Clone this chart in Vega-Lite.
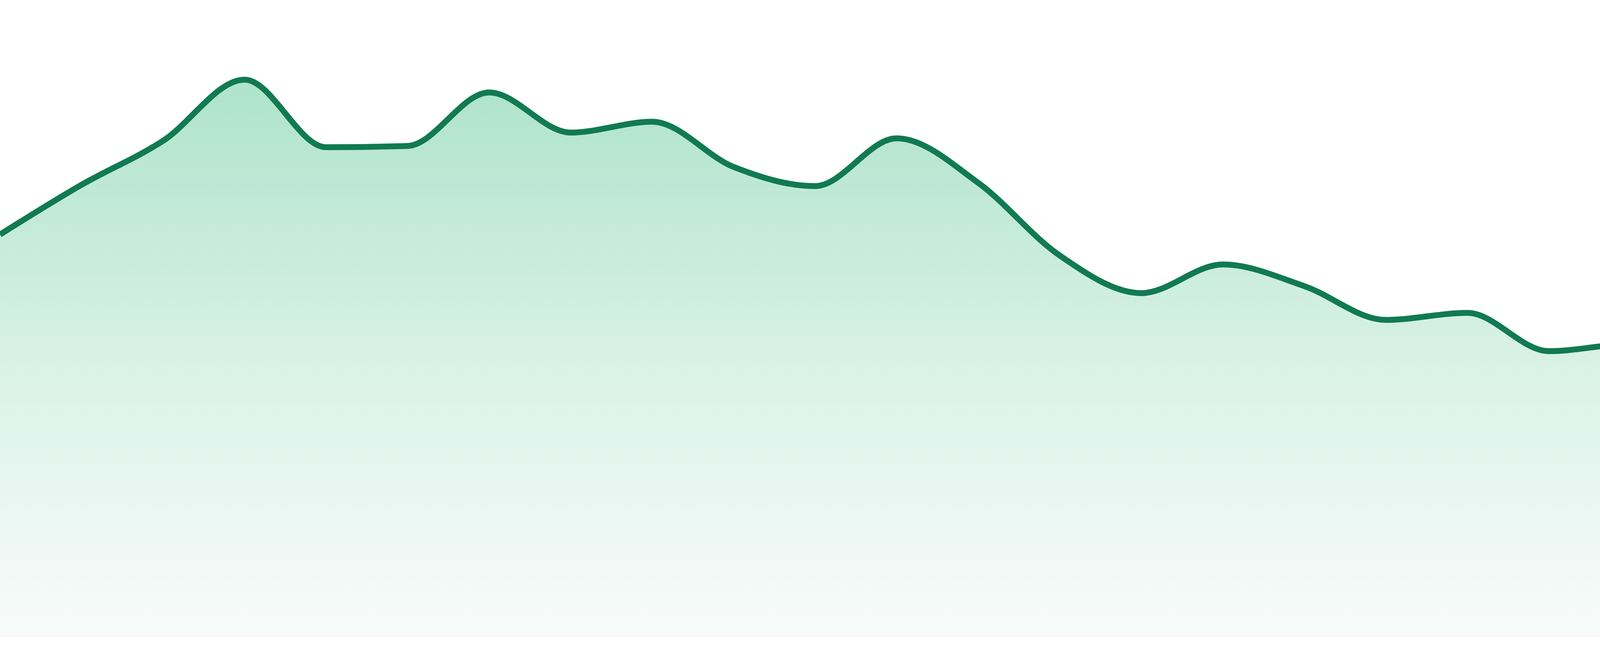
{
  "$schema": "https://vega.github.io/schema/vega-lite/v6.json",
  "description": "Smooth green area trend with gradient fill",
  "width": 4800,
  "height": 1680,
  "autosize": {"type": "fit", "contains": "padding"},
  "padding": 0,
  "background": "white",
  "config": {"view": {"stroke": null}},
  "data": {
    "values": [
      {"step": 0, "value": 63.2},
      {"step": 1, "value": 71.0},
      {"step": 2, "value": 77.9},
      {"step": 3, "value": 87.5},
      {"step": 4, "value": 76.9},
      {"step": 5, "value": 77.1},
      {"step": 6, "value": 85.5},
      {"step": 7, "value": 79.2},
      {"step": 8, "value": 80.9},
      {"step": 9, "value": 73.8},
      {"step": 10, "value": 70.8},
      {"step": 11, "value": 78.3},
      {"step": 12, "value": 71.3},
      {"step": 13, "value": 59.9},
      {"step": 14, "value": 54.0},
      {"step": 15, "value": 58.5},
      {"step": 16, "value": 55.1},
      {"step": 17, "value": 49.8},
      {"step": 18, "value": 50.9},
      {"step": 19, "value": 44.9},
      {"step": 20, "value": 46.0},
      {"step": 21, "value": 38.5},
      {"step": 22, "value": 37.1},
      {"step": 23, "value": 30.6}
    ]
  },
  "encoding": {
    "x": {
      "field": "step",
      "type": "quantitative",
      "scale": {"domain": [0, 23], "nice": false, "zero": false},
      "axis": null
    },
    "y": {
      "field": "value",
      "type": "quantitative",
      "scale": {"domain": [-2.94, 100], "nice": false},
      "axis": null
    }
  },
  "layer": [
    {
      "mark": {
        "type": "area",
        "interpolate": "monotone",
        "clip": true,
        "fill": {
          "gradient": "linear",
          "x1": 0, "y1": 0, "x2": 0, "y2": 1,
          "stops": [
            {"offset": 0, "color": "#aee3cb"},
            {"offset": 0.5, "color": "#d8f1e7"},
            {"offset": 0.77, "color": "#eaf7f2"},
            {"offset": 1, "color": "#f8fbfa"}
          ]
        }
      }
    },
    {
      "mark": {
        "type": "line",
        "interpolate": "monotone",
        "clip": true,
        "color": "#117a52",
        "strokeWidth": 15
      }
    }
  ]
}
